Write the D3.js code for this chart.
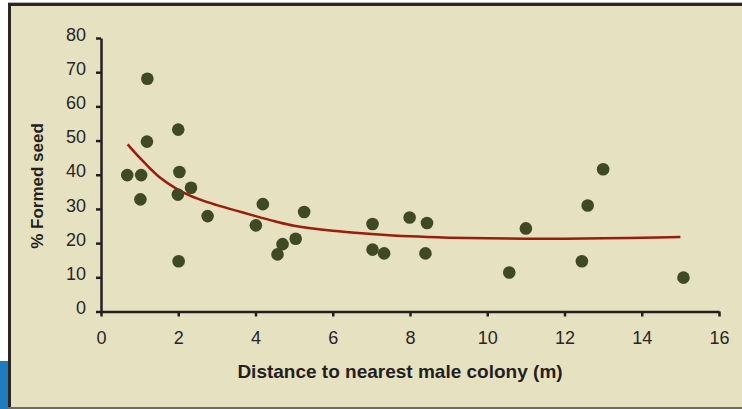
<!DOCTYPE html>
<html lang="en">
<head>
    <meta charset="UTF-8">
    <script src="https://cdnjs.cloudflare.com/ajax/libs/d3/7.8.5/d3.min.js"></script>
    <title>Formed seed vs distance</title>
<style>
    body{
        margin: 0;
        background: white;
        font-family: 'Liberation Sans', Arial, sans-serif;
    }
    .axis path, .axis line{
        stroke: #231f20;
        stroke-width: 2.5px;
    }
    .axis text{
        font-family: 'Liberation Sans', Arial, sans-serif;
        font-size: 18px;
        fill: #2a2627;
    }
    .title{
        font-weight: bold;
        fill: #231f20;
    }
</style>
</head>
<body>
<svg></svg>
<script>
    // distance (m) and % formed seed
    const distance   = [0.68, 1.04, 1.02, 1.2, 1.19, 2.0, 2.03, 1.99, 2.01, 2.33, 2.76, 4.01, 4.19, 4.57, 4.70, 5.04, 5.26, 7.03, 7.03, 7.33, 7.99, 8.44, 8.40, 10.57, 11.0, 12.45, 12.6, 13.0, 15.08]
    const formedSeed = [39.9, 39.9, 32.8, 68.1, 49.7, 53.2, 40.8, 34.2, 14.7, 36.2, 27.9, 25.2, 31.4, 16.7, 19.7, 21.3, 29.1, 25.6, 18.1, 17.0, 27.5, 25.9, 17.0, 11.4, 24.3, 14.7, 31.0, 41.6, 9.9]

    // trend line read at a few distances
    const trendX = [0.69, 1.0, 1.5, 2.0, 2.5, 3.0, 3.5, 4.0, 4.5, 5.0, 6.0, 7.0, 8.0, 9.0, 10.0, 11.0, 12.0, 13.0, 14.0, 15.0]
    const trendY = [48.9, 45.0, 39.4, 35.6, 33.0, 31.1, 29.5, 27.9, 26.4, 25.1, 23.6, 22.7, 22.0, 21.6, 21.4, 21.3, 21.3, 21.4, 21.6, 21.8]

    const xTicks = [0, 2, 4, 6, 8, 10, 12, 14, 16]
    const yTicks = [0, 10, 20, 30, 40, 50, 60, 70, 80]

    const W = 742, H = 409
    const svg = d3.select('svg')
        .attr('width', W)
        .attr('height', H)

    // frame
    svg.append('rect')
        .attr('x', 8).attr('y', 3)
        .attr('width', W - 8).attr('height', H - 3)
        .attr('fill', '#e6e1c1')
    svg.append('rect')
        .attr('x', 8).attr('y', 2)
        .attr('width', W - 8).attr('height', 1.5)
        .attr('fill', '#b9b6b0')
    svg.append('rect')
        .attr('x', 8).attr('y', 3)
        .attr('width', W - 8).attr('height', 3)
        .attr('fill', '#2b2624')
    svg.append('rect')
        .attr('x', 8).attr('y', 3)
        .attr('width', 3).attr('height', H - 3)
        .attr('fill', '#2b2624')
    svg.append('rect')
        .attr('x', 8).attr('y', 407)
        .attr('width', W - 8).attr('height', 2)
        .attr('fill', '#6d6a66')
    svg.append('rect')
        .attr('x', 0).attr('y', 361)
        .attr('width', 8).attr('height', H - 361)
        .attr('fill', '#1f7cc0')

    const xScale = d3.scaleLinear()
        .domain([0, 16])
        .range([101, 719])
    const yScale = d3.scaleLinear()
        .domain([0, 80])
        .range([311.5, 38])

    //x axis
    const xAxis = svg.append('g')
        .attr('class', 'axis')
        .attr('transform', 'translate(0,' + yScale(0) + ')')
        .call(d3.axisBottom(xScale).tickValues(xTicks).tickSize(5).tickSizeOuter(0).tickPadding(11))
    xAxis.selectAll('text').attr('dy', '0.9em')

    //y axis
    const yAxis = svg.append('g')
        .attr('class', 'axis')
        .attr('transform', 'translate(' + xScale(0) + ',0)')
        .call(d3.axisLeft(yScale).tickValues(yTicks).tickSize(5).tickSizeOuter(0).tickPadding(10))
    yAxis.selectAll('text').attr('dy', '0.12em')

    // trend line
    const line = d3.line()
        .x((d, i) => xScale(trendX[i]))
        .y((d) => yScale(d))
        .curve(d3.curveCatmullRom)
    svg.append('path')
        .datum(trendY)
        .attr('d', line)
        .attr('fill', 'none')
        .attr('stroke', '#9b1c0b')
        .attr('stroke-width', 2.5)

    // dots
    svg.selectAll('.dot')
        .data(distance)
        .enter()
        .append('circle')
        .attr('class', 'dot')
        .attr('cx', (d) => xScale(d))
        .attr('cy', (d, i) => yScale(formedSeed[i]))
        .attr('r', 6.3)
        .attr('fill', '#3f4a24')

    //axis labels
    svg.append('text')
        .attr('class', 'title')
        .attr('x', 400)
        .attr('y', 378)
        .attr('text-anchor', 'middle')
        .style('font-size', '19px')
        .text('Distance to nearest male colony (m)')

    svg.append('text')
        .attr('class', 'title')
        .attr('transform', 'translate(43,186) rotate(-90)')
        .attr('text-anchor', 'middle')
        .style('font-size', '17px')
        .text('% Formed seed')
</script>
</body>
</html>
